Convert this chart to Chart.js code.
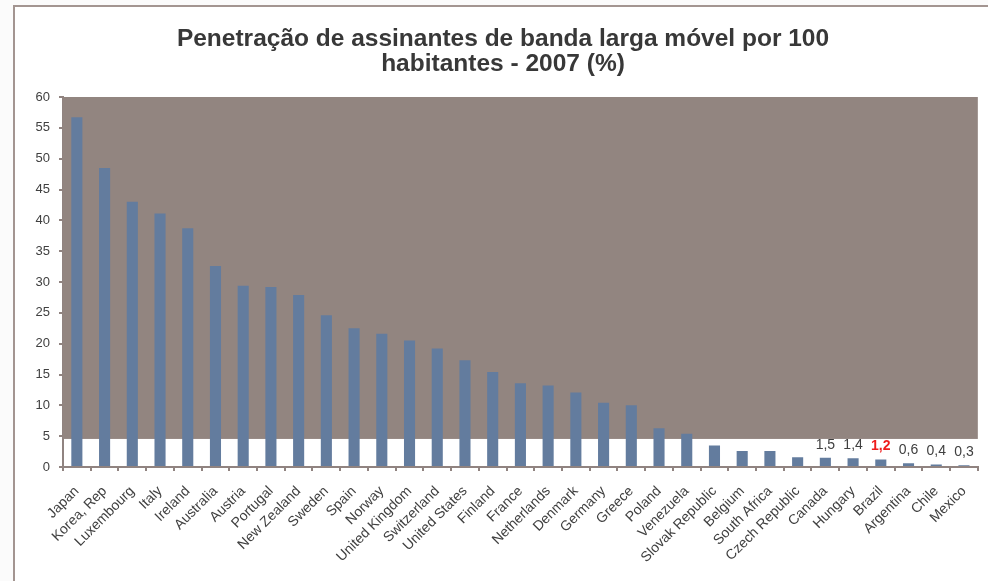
<!DOCTYPE html>
<html>
<head>
<meta charset="utf-8">
<script src="https://cdn.jsdelivr.net/npm/chart.js"></script>
<style>
  html, body { margin: 0; padding: 0; background: #fbfbfb; }
  #frame {
    position: absolute; left: 13px; top: 5px;
    width: 973px; height: 574px;
    border-left: 2px solid #a39591; border-top: 2px solid #a39591;
    background: #ffffff;
  }
  canvas { display: block; }
</style>
</head>
<body>
<div id="frame"><canvas id="chart" width="973" height="574"></canvas></div>
<script>
// data
const countries = ['Japan', 'Korea, Rep', 'Luxembourg', 'Italy', 'Ireland', 'Australia', 'Austria', 'Portugal',
    'New Zealand', 'Sweden', 'Spain', 'Norway', 'United Kingdom', 'Switzerland', 'United States', 'Finland',
    'France', 'Netherlands', 'Denmark', 'Germany', 'Greece', 'Poland', 'Venezuela', 'Slovak Republic',
    'Belgium', 'South Africa', 'Czech Republic', 'Canada', 'Hungary', 'Brazil', 'Argentina', 'Chile', 'Mexico'];
const penetration = [56.7, 48.5, 43.0, 41.1, 38.7, 32.6, 29.4, 29.2, 27.9, 24.6, 22.5, 21.6, 20.5, 19.2,
    17.3, 15.4, 13.6, 13.2, 12.1, 10.4, 10.0, 6.3, 5.4, 3.5, 2.6, 2.6, 1.6, 1.5, 1.4, 1.2, 0.6, 0.4, 0.3];
const valueLabels = ['', '', '', '', '', '', '', '', '', '', '', '', '', '', '', '', '', '', '', '', '',
    '', '', '', '', '', '', '1,5', '1,4', '1,2', '0,6', '0,4', '0,3'];
const highlight = 'Brazil';
const yTicks = [0, 5, 10, 15, 20, 25, 30, 35, 40, 45, 50, 55, 60];
const bandFrom = 4.55;   // brown background starts here

const axisColor = '#908380';
const textColor = '#404040';
const fontFamily = '"Liberation Sans", Arial, sans-serif';

// brown band behind the bars + value labels above the small bars
const decorations = {
    id: 'decorations',
    beforeDatasetsDraw(chart) {
        const { ctx, chartArea, scales } = chart;
        const top = scales.y.getPixelForValue(yTicks[yTicks.length - 1]);
        const bottom = scales.y.getPixelForValue(bandFrom);
        ctx.save();
        ctx.fillStyle = '#928580';
        ctx.fillRect(chartArea.left, top, chartArea.right - chartArea.left, bottom - top);
        ctx.restore();
    },
    afterDatasetsDraw(chart) {
        const { ctx } = chart;
        const bars = chart.getDatasetMeta(0).data;
        ctx.save();
        ctx.textAlign = 'center';
        ctx.textBaseline = 'bottom';
        valueLabels.forEach((txt, i) => {
            if (!txt) return;
            const isHi = countries[i] === highlight;
            ctx.font = (isHi ? 'bold ' : '') + '14px ' + fontFamily;
            ctx.fillStyle = isHi ? '#ee1c1c' : textColor;
            ctx.fillText(txt, bars[i].x, bars[i].y - 6);
        });
        ctx.restore();
    }
};

new Chart(document.getElementById('chart'), {
    type: 'bar',
    data: {
        labels: countries,
        datasets: [{
            data: penetration,
            backgroundColor: '#637c9e',
            barPercentage: 0.4,
            categoryPercentage: 1
        }]
    },
    plugins: [decorations],
    options: {
        responsive: false,
        animation: false,
        layout: { padding: { left: 13, right: 10, top: 0, bottom: 0 } },
        plugins: {
            legend: { display: false },
            tooltip: { enabled: false },
            title: {
                display: true,
                text: ['Penetração de assinantes de banda larga móvel por 100', 'habitantes - 2007 (%)'],
                color: '#383838',
                font: { family: fontFamily, size: 24.5, weight: 'bold', lineHeight: 1.0 },
                padding: { top: 20, bottom: 21 }
            }
        },
        scales: {
            x: {
                afterFit: s => { s.height = 114; },
                grid: { display: true, drawOnChartArea: false, offset: true, color: axisColor, tickLength: 4, lineWidth: 2 },
                border: { color: axisColor, width: 2 },
                ticks: {
                    color: textColor,
                    font: { family: fontFamily, size: 14 },
                    minRotation: 45, maxRotation: 45, autoSkip: false, padding: 12
                }
            },
            y: {
                min: 0, max: 60,
                afterFit: s => { s.width = 35; },
                afterBuildTicks: s => { s.ticks = yTicks.map(v => ({ value: v })); },
                grid: { display: true, drawOnChartArea: false, color: axisColor, tickLength: 4, lineWidth: 2 },
                border: { color: axisColor, width: 2 },
                ticks: {
                    color: textColor,
                    font: { family: fontFamily, size: 13 },
                    padding: 9
                }
            }
        }
    }
});
</script>
</body>
</html>
